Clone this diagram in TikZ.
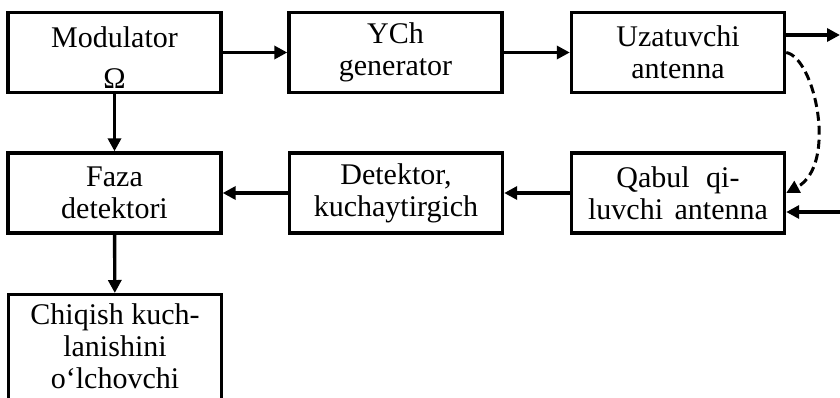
\documentclass[tikz,border=0pt]{standalone}
\usepackage{fontspec}
\setmainfont{Liberation Serif}
\usetikzlibrary{arrows.meta}
\tikzset{
  box/.style={draw, line width=1.7pt, minimum width=106.5pt, minimum height=40pt, inner sep=0pt, align=center, font=\fontsize{15}{16}\selectfont},
  txt/.style={inner sep=0pt, align=center, font=\fontsize{15}{16}\selectfont},
  conn/.style={line width=1.7pt, -{Triangle[length=6.5pt,width=6.5pt]}},
  dconn/.style={line width=1.5pt, dash pattern=on 4.5pt off 2.5pt, -{Triangle[length=6.5pt,width=6.5pt]}}
}
\begin{document}
\begin{tikzpicture}[x=0.5pt, y=-0.5pt]
\useasboundingbox (0,0) rectangle (840,397);
\clip (0,0) rectangle (840,397);
\node[box] (m) at (114.5,52.5) {\rule{0pt}{15.5pt}Modulator\\[4.5pt]Ω};
\node[box] (y) at (395.5,52.5) {YCh\\generator};
\node[box] (u) at (678,52.5) {Uzatuvchi\\antenna};
\node[box] (f) at (114.5,193) {Faza\\detektori};
\node[box] (d) at (396,193) {Detektor,\\kuchaytirgich};
\node[box] (q) at (678,193) {Qabul\hspace{4.5pt} qi-\\luvchi\hspace{2pt} antenna};
\node[box, minimum height=62pt, anchor=north] (c) at (115,293) {};
\node[txt] (ct) at (115,346) {Chiqish kuch-\\lanishini\\o‘lchovchi};
\coordinate (out) at (840,35);
\coordinate (in) at (840,212);
\draw[conn] (m) -- (y);
\draw[conn] (y) -- (u);
\draw[conn] (u.east |- out) -- (out);
\draw[dconn] (u.east) .. controls (815,58) and (838,165) .. (q.east);
\draw[conn] (in) -- (q.east |- in);
\draw[conn] (q) -- (d);
\draw[conn] (d) -- (f);
\draw[conn] (m) -- (f);
\draw[conn] (f) -- (c);
\end{tikzpicture}
\end{document}
